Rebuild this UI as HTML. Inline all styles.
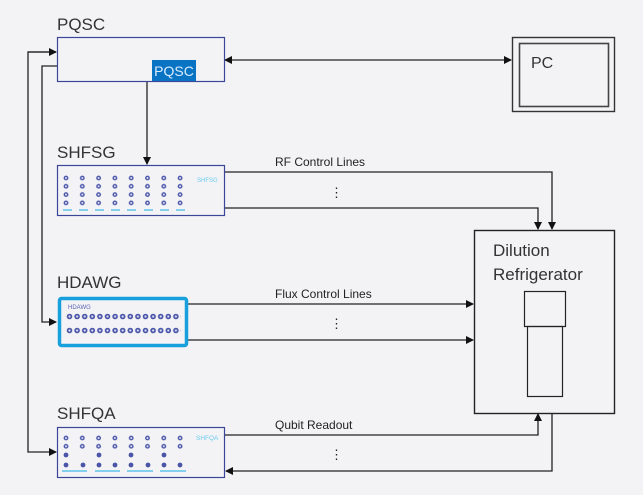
<!DOCTYPE html>
<html><head><style>
html,body{margin:0;padding:0;background:#f3f3f6;}
svg{display:block;font-family:"Liberation Sans",sans-serif;}
</style></head><body>
<svg width="643" height="495" viewBox="0 0 643 495" xmlns="http://www.w3.org/2000/svg">
<defs>
<marker id="a" markerWidth="8" markerHeight="8" refX="7" refY="4" orient="auto" markerUnits="userSpaceOnUse"><path d="M0,0 L8,4 L0,8 z" fill="#111"/></marker>
<marker id="s" markerWidth="8" markerHeight="8" refX="1" refY="4" orient="auto" markerUnits="userSpaceOnUse"><path d="M8,0 L0,4 L8,8 z" fill="#111"/></marker>
<pattern id="p1" x="63" y="175" width="16.3" height="8.3" patternUnits="userSpaceOnUse"><circle cx="3" cy="3" r="2.4" fill="#4a55a8"/><circle cx="3" cy="3" r="1" fill="#dfe2f5"/></pattern>
<pattern id="p3" x="63" y="435" width="16.3" height="8.3" patternUnits="userSpaceOnUse"><circle cx="3" cy="3" r="2.4" fill="#4a55a8"/><circle cx="3" cy="3" r="1" fill="#dfe2f5"/></pattern>
<pattern id="p2" x="66" y="313" width="7.6" height="14" patternUnits="userSpaceOnUse"><circle cx="3.5" cy="3.5" r="2.8" fill="#4a55a8"/><circle cx="3.5" cy="3.5" r="1.1" fill="#dfe2f5"/></pattern>
</defs>
<g fill="none" stroke="#222" stroke-width="1.3">
<polyline points="56,52 28,52 28,452 56,452" marker-end="url(#a)"/>
<polyline points="57,66 42,66 42,322 56,322" marker-end="url(#a)"/>
<line x1="28" y1="52" x2="56" y2="52" marker-end="url(#a)"/>
<line x1="147" y1="81" x2="147" y2="164" marker-end="url(#a)"/>
<line x1="225" y1="60" x2="511" y2="60" marker-start="url(#s)" marker-end="url(#a)"/>
<polyline points="224,172 552,172 552,229" marker-end="url(#a)"/>
<polyline points="224,208 538,208 538,229" marker-end="url(#a)"/>
<line x1="188" y1="304" x2="473" y2="304" marker-end="url(#a)"/>
<line x1="188" y1="340" x2="473" y2="340" marker-end="url(#a)"/>
<polyline points="224,435 538,435 538,414" marker-end="url(#a)"/>
<polyline points="552,413 552,471 226,471" marker-end="url(#a)"/>
</g>
<rect x="57.5" y="37.5" width="167" height="44" fill="#f3f3f6" stroke="#3c4699" stroke-width="1.2"/>
<rect x="152" y="60" width="44" height="21" fill="#0a74c4"/>
<text x="174" y="76" font-size="14" fill="#d9ecff" text-anchor="middle">PQSC</text>
<text x="57" y="30" font-size="17" fill="#333">PQSC</text>
<rect x="512.5" y="37.5" width="102" height="74" fill="none" stroke="#333" stroke-width="1.4"/>
<rect x="519.5" y="43.5" width="89" height="63" fill="none" stroke="#444" stroke-width="1.6"/>
<text x="531" y="68" font-size="16" fill="#333">PC</text>
<text x="57" y="158" font-size="17" fill="#333">SHFSG</text>
<rect x="57.5" y="165.5" width="167" height="50" fill="#f3f3f6" stroke="#3c4699" stroke-width="1.2"/>
<rect x="63" y="175" width="130" height="33" fill="url(#p1)"/>
<g stroke="#5fc3ea" stroke-width="1.5"><line x1="63" y1="210" x2="72" y2="210"/><line x1="79" y1="210" x2="88" y2="210"/><line x1="95" y1="210" x2="104" y2="210"/><line x1="111" y1="210" x2="120" y2="210"/><line x1="127" y1="210" x2="136" y2="210"/><line x1="144" y1="210" x2="153" y2="210"/><line x1="160" y1="210" x2="169" y2="210"/><line x1="176" y1="210" x2="185" y2="210"/></g>
<text x="197" y="182" font-size="6" fill="#6ccbee">SHFSG</text>
<text x="275" y="166" font-size="12" fill="#222">RF Control Lines</text>
<text x="330" y="197" font-size="13" fill="#222">⋮</text>
<text x="57" y="288" font-size="17" fill="#333">HDAWG</text>
<rect x="59.5" y="298.5" width="127" height="47" rx="2" fill="#f3f3f6" stroke="#17a0dc" stroke-width="3.5"/>
<text x="68" y="309" font-size="6" fill="#5a63b0">HDAWG</text>
<rect x="66" y="313" width="115" height="7" fill="url(#p2)"/>
<rect x="66" y="327" width="115" height="7" fill="url(#p2)"/>
<text x="275" y="298" font-size="12" fill="#222">Flux Control Lines</text>
<text x="330" y="328" font-size="13" fill="#222">⋮</text>
<text x="57" y="419" font-size="17" fill="#333">SHFQA</text>
<rect x="57.5" y="427.5" width="167" height="50" fill="#f3f3f6" stroke="#3c4699" stroke-width="1.2"/>
<rect x="63" y="435" width="130" height="15" fill="url(#p3)"/>
<g fill="#4a55a8"><circle cx="66" cy="455" r="2.4"/><circle cx="99" cy="455" r="2.4"/><circle cx="131" cy="455" r="2.4"/><circle cx="164" cy="455" r="2.4"/>
<circle cx="66" cy="465" r="2.4"/><circle cx="83" cy="465" r="2.4"/><circle cx="99" cy="465" r="2.4"/><circle cx="115" cy="465" r="2.4"/><circle cx="131" cy="465" r="2.4"/><circle cx="148" cy="465" r="2.4"/><circle cx="164" cy="465" r="2.4"/><circle cx="180" cy="465" r="2.4"/></g>
<g stroke="#5fc3ea" stroke-width="1.5"><line x1="62" y1="471" x2="87" y2="471"/><line x1="95" y1="471" x2="120" y2="471"/><line x1="127" y1="471" x2="153" y2="471"/><line x1="160" y1="471" x2="186" y2="471"/></g>
<text x="196" y="440" font-size="6.5" fill="#6ccbee">SHFQA</text>
<text x="275" y="429" font-size="12" fill="#222">Qubit Readout</text>
<text x="330" y="459" font-size="13" fill="#222">⋮</text>
<rect x="474.5" y="230.5" width="140" height="183" fill="#f3f3f6" stroke="#222" stroke-width="1.4"/>
<text x="493" y="256" font-size="17" fill="#333">Dilution</text>
<text x="493" y="280" font-size="17" fill="#333">Refrigerator</text>
<rect x="524.5" y="291.5" width="41" height="35" fill="none" stroke="#222" stroke-width="1.2"/>
<rect x="527.5" y="326.5" width="35" height="70" fill="none" stroke="#222" stroke-width="1.2"/>
</svg>
</body></html>
